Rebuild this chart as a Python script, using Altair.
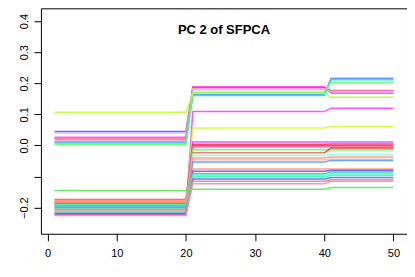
import altair as alt
import pandas as pd

x_values = list(range(1, 51))

# level of each curve on x = 1..20, 21..40, 41..50
seg1 = [0.045, 0.040, 0.026, 0.021, 0.016, 0.011, 0.008, 0.002, 0.107,
        -0.213, -0.208, -0.188, -0.174, -0.222, -0.179, -0.193, -0.185, -0.197,
        -0.203, -0.176, -0.210, -0.195, -0.182, -0.217, -0.200, -0.215, -0.190,
        -0.219, -0.206, -0.225, -0.145]
seg2 = [0.184, 0.179, 0.189, 0.186, 0.182, 0.165, 0.161, 0.171, 0.168,
        0.109, 0.056, 0.011, 0.004, -0.001, -0.005, -0.014, -0.024, -0.027,
        -0.032, -0.040, -0.046, -0.053, -0.076, -0.083, -0.091, -0.096, -0.101,
        -0.108, -0.115, -0.123, -0.141]
seg3 = [0.175, 0.172, 0.168, 0.177, 0.174, 0.216, 0.211, 0.203, 0.155,
        0.120, 0.061, 0.011, 0.005, 0.000, -0.005, -0.012, -0.008, -0.017,
        -0.030, -0.037, -0.044, -0.048, -0.076, -0.080, -0.085, -0.091, -0.096,
        -0.103, -0.110, -0.115, -0.135]
colors = ["#6a4dff", "#c9b8ff", "#ff4dff", "#ff4070", "#ffb0d0", "#4c9aff",
          "#33ccff", "#66ff66", "#b8ff33", "#ff44ee", "#ccff33", "#cc55ff",
          "#ff3355", "#ff2a6a", "#ff6699", "#55ff77", "#ff3344", "#99ff99",
          "#88ffee", "#ff9977", "#ffbbaa", "#5599ff", "#ff9966", "#6655ff",
          "#22ccaa", "#44ffdd", "#33ffaa", "#4477ff", "#ff7777", "#ff88bb",
          "#55ee55"]

x_ticks = [0, 10, 20, 30, 40, 50]
y_ticks = [-0.2, -0.1, 0.0, 0.1, 0.2, 0.3, 0.4]

rows = []
for i, (a, b, c) in enumerate(zip(seg1, seg2, seg3)):
    for x in x_values:
        y = a if x <= 20 else (b if x <= 40 else c)
        rows.append({"line": f"L{i:02d}", "x": x, "y": y})
df = pd.DataFrame(rows)
ids = [f"L{i:02d}" for i in range(len(seg1))]

font = "Liberation Sans"

chart = alt.Chart(df).mark_line(strokeWidth=1.5, opacity=0.9).encode(
    x=alt.X("x:Q", scale=alt.Scale(domain=[-0.96, 51.96], nice=False, zero=False),
            axis=alt.Axis(values=x_ticks, title=None, grid=False, domain=False,
                          tickColor="black", tickSize=7, labelColor="black",
                          labelFontSize=11, labelFont=font, labelPadding=7,
                          format="d")),
    y=alt.Y("y:Q", scale=alt.Scale(domain=[-0.284, 0.441], nice=False, zero=False),
            axis=alt.Axis(values=y_ticks, title=None, grid=False, domain=False,
                          tickColor="black", tickSize=7, labelColor="black",
                          labelFontSize=11, labelFont=font, labelAngle=270,
                          labelAlign="center", labelBaseline="alphabetic",
                          labelPadding=6,
                          labelExpr="abs(datum.value + 0.1) < 0.001 ? '' : format(datum.value, '.1f')")),
    color=alt.Color("line:N", scale=alt.Scale(domain=ids, range=colors), legend=None),
    detail="line:N",
).properties(
    width=367, height=226,
    autosize="none",
    padding={"left": 33, "top": 0, "right": 0, "bottom": 35},
    title=alt.TitleParams("PC 2 of SFPCA", font=font, fontSize=13, fontWeight="bold",
                          anchor="middle", offset=-29, color="black"),
).configure_view(stroke="black", strokeWidth=1)

chart.save("out.html", embed_options={"renderer": "svg", "actions": False})
